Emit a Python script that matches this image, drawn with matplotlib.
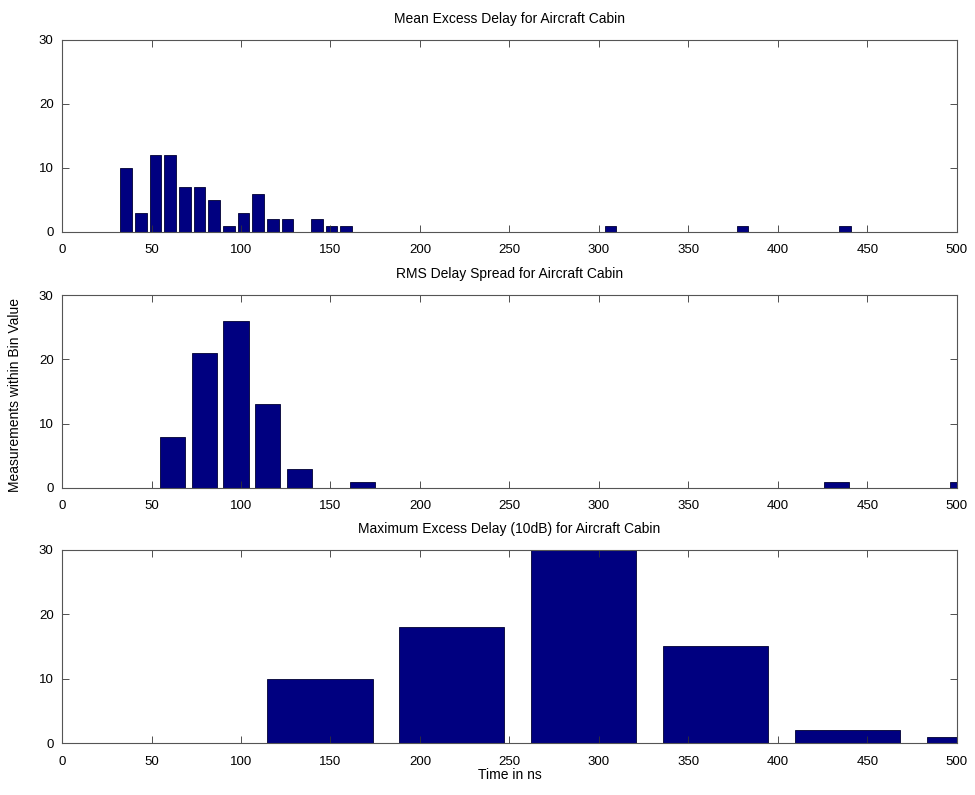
import matplotlib
matplotlib.use("Agg")
import matplotlib.pyplot as plt

# bin centres (ns) and counts
mean_centers = [35.8, 44.0, 52.2, 60.4, 68.6, 76.8, 85.0, 93.2, 101.4, 109.6,
                117.8, 126.0, 142.4, 150.6, 158.8, 306.4, 380.2, 437.6]
mean_counts = [10, 3, 12, 12, 7, 7, 5, 1, 3, 6, 2, 2, 2, 1, 1, 1, 1, 1]

rms_centers = [61.9, 79.6, 97.2, 114.9, 132.5, 167.8, 432.8, 503.4]
rms_counts = [8, 21, 26, 13, 3, 1, 1, 1]

max_centers = [144.0, 217.7, 291.4, 365.1, 438.8, 512.5]
max_counts = [10, 18, 30, 15, 2, 1]

titles = ["Mean Excess Delay for Aircraft Cabin",
          "RMS Delay Spread for Aircraft Cabin",
          "Maximum Excess Delay (10dB) for Aircraft Cabin"]

plt.rcParams['font.family'] = ['Liberation Sans', 'DejaVu Sans']
plt.rcParams['font.size'] = 9

fig = plt.figure(figsize=(9.75, 7.95), dpi=100)
left, width = 0.0636, 0.9179
boxes = [(0.7082, 0.2415), (0.3862, 0.2427), (0.0654, 0.2428)]

data = [(mean_centers, mean_counts, 8.2),
        (rms_centers, rms_counts, 17.65),
        (max_centers, max_counts, 73.7)]

axes = []
for (bottom, height), (centers, counts, step), title in zip(boxes, data, titles):
    ax = fig.add_axes([left, bottom, width, height])
    ax.bar(centers, counts, width=0.8 * step, color='#000080',
           edgecolor='#000033', linewidth=0.6)
    ax.set_xlim(0, 500)
    ax.set_ylim(0, 30)
    ax.set_xticks(range(0, 501, 50))
    ax.set_yticks([0, 10, 20, 30])
    ax.tick_params(direction='in', top=True, right=True, length=5,
                   width=0.6, colors='#333333', labelcolor='black', labelsize=9.5)
    ax.tick_params(axis='x', pad=9)
    ax.tick_params(axis='y', pad=6)
    for s in ax.spines.values():
        s.set_linewidth(0.8)
        s.set_color('#555555')
    ax.set_title(title, fontsize=10, pad=12.5)
    axes.append(ax)

axes[1].set_ylabel('Measurements within Bin Value', fontsize=10)
axes[1].yaxis.set_label_coords(-0.045, 0.48)
axes[2].set_xlabel('Time in ns', fontsize=10, labelpad=0)

fig.savefig('out.png', dpi=100)
